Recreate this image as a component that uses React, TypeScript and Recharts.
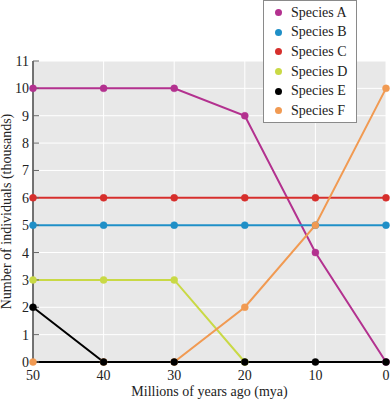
import React from 'react';
import { LineChart, Line, XAxis, YAxis, CartesianGrid } from 'recharts';

const years = [50, 40, 30, 20, 10, 0];
const speciesA = [10, 10, 10, 9, 4, 0];
const speciesB = [5, 5, 5, 5, 5, 5];
const speciesC = [6, 6, 6, 6, 6, 6];
const speciesD: (number | null)[] = [3, 3, 3, 0, null, null];
const speciesE = [2, 0, 0, 0, 0, 0];
const speciesF = [0, 0, 0, 2, 5, 10];
const yTicks = [0, 1, 2, 3, 4, 5, 6, 7, 8, 9, 10, 11];

const species = [
  { key: 'A', name: 'Species A', color: '#b3318f', values: speciesA },
  { key: 'B', name: 'Species B', color: '#1f8fc7', values: speciesB },
  { key: 'C', name: 'Species C', color: '#d62f2c', values: speciesC },
  { key: 'D', name: 'Species D', color: '#c9d945', values: speciesD },
  { key: 'E', name: 'Species E', color: '#000000', values: speciesE },
  { key: 'F', name: 'Species F', color: '#f19a52', values: speciesF },
];

const drawOrder = ['A', 'B', 'C', 'D', 'F', 'E'];

const data = years.map((y, i) => {
  const row: Record<string, number | null> = { year: y };
  species.forEach((s) => {
    row[s.key] = s.values[i];
  });
  return row;
});

const FONT = '"Liberation Serif", serif';

const LegendBox = () => (
  <div
    style={{
      position: 'absolute',
      left: 263,
      top: 0,
      border: '1px solid #8a8a8a',
      background: '#ffffff',
      width: 94,
      height: 123,
      boxSizing: 'border-box',
      padding: '2px 0 0 0',
      fontFamily: FONT,
      fontSize: 14,
      color: '#222',
    }}
  >
    {species.map((s) => (
      <div key={s.key} style={{ display: 'flex', alignItems: 'center', height: 19.6 }}>
        <span
          style={{
            display: 'inline-block',
            width: 7,
            height: 7,
            borderRadius: '50%',
            background: s.color,
            marginLeft: 11,
            marginRight: 9,
          }}
        />
        <span>{s.name}</span>
      </div>
    ))}
  </div>
);

export default function App() {
  return (
    <div style={{ position: 'absolute', left: 0, top: 0, width: 390, height: 400 }}>
      <LineChart
        width={390}
        height={400}
        data={data}
        margin={{ top: 61, right: 4, bottom: 0, left: 0 }}
      >
        <CartesianGrid stroke="#ffffff" strokeWidth={1} fill="#e8e8e8" />
        <XAxis
          dataKey="year"
          type="number"
          domain={[0, 50]}
          reversed
          ticks={years}
          height={38}
          tickLine={false}
          axisLine={{ stroke: '#000', strokeWidth: 2 }}
          tick={{ fill: '#222', fontSize: 14, fontFamily: FONT }}
          tickMargin={2}
          label={{
            value: 'Millions of years ago (mya)',
            position: 'insideBottom',
            offset: 0,
            fill: '#222',
            fontSize: 14,
            fontFamily: FONT,
            dy: -4,
          }}
        />
        <YAxis
          type="number"
          domain={[0, 11]}
          ticks={yTicks}
          width={33}
          interval={0}
          tickSize={-6}
          tickMargin={10}
          tickLine={{ stroke: '#666' }}
          axisLine={{ stroke: '#444', strokeWidth: 1.5 }}
          tick={{ fill: '#222', fontSize: 14, fontFamily: FONT }}
          label={{
            value: 'Number of individuals (thousands)',
            angle: -90,
            position: 'insideLeft',
            offset: 0,
            fill: '#222',
            fontSize: 14,
            fontFamily: FONT,
            dx: 6,
            style: { textAnchor: 'middle' },
          }}
        />
        {drawOrder.map((k) => {
          const s = species.find((x) => x.key === k)!;
          return (
            <Line
              key={s.key}
              dataKey={s.key}
              name={s.name}
              stroke={s.color}
              strokeWidth={2}
              dot={{ r: 3.5, fill: s.color, stroke: s.color, strokeWidth: 0.5 }}
              activeDot={false}
              isAnimationActive={false}
              connectNulls={false}
            />
          );
        })}
      </LineChart>
      <LegendBox />
    </div>
  );
}
